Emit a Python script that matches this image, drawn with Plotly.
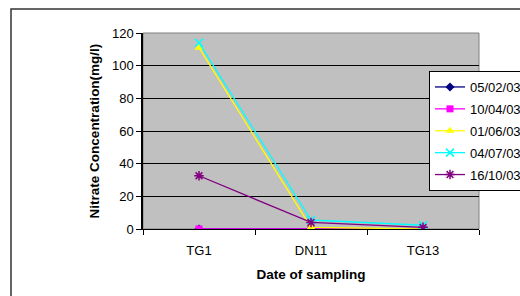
import plotly.graph_objects as go

categories = ["TG1", "DN11", "TG13"]
series_names = ["05/02/03", "10/04/03", "01/06/03", "04/07/03", "16/10/03"]
v_0502 = [0, 0, 0]
v_1004 = [0, 0, 0]
v_0106 = [111, 1, 0]
v_0407 = [114, 5.5, 2.3]
v_1610 = [32.6, 4, 1]
series_values = [v_0502, v_1004, v_0106, v_0407, v_1610]
colors = ["#000080", "#FF00FF", "#FFFF00", "#00FFFF", "#800080"]
symbols = ["diamond", "square", "triangle-up", "x-thin-open", "asterisk-open"]
msizes = [7, 7, 8, 8, 8]

FONT = "Liberation Sans, Arial, sans-serif"

fig = go.Figure()
for i, (name, vals) in enumerate(zip(series_names, series_values)):
    open_sym = symbols[i].endswith("open")
    fig.add_trace(go.Scatter(
        x=categories, y=vals, name=name, mode="lines+markers",
        legendgroup=name,
        line=dict(color=colors[i], width=1.3),
        marker=dict(symbol=symbols[i], size=msizes[i], color=colors[i],
                    line=dict(color=colors[i], width=1.5 if open_sym else 0)),
    ))

L, R, T, B = 143, 41, 33, 67
W, H = 520, 296
pw, ph = W - L - R, H - T - B

fig.update_layout(
    width=W, height=H,
    margin=dict(l=L, r=R, t=T, b=B, autoexpand=False),
    paper_bgcolor="white",
    plot_bgcolor="#C0C0C0",
    font=dict(family=FONT, size=13, color="black"),
    showlegend=True,
    legend=dict(
        x=(429 - L) / pw, y=(229 - 71) / ph, xanchor="left", yanchor="top",
        bgcolor="white", bordercolor="black", borderwidth=1,
        font=dict(family=FONT, size=13, color="black"),
        tracegroupgap=2,
    ),
    xaxis=dict(
        type="category", range=[-0.5, 2.5],
        showgrid=False, showline=True, linecolor="black", linewidth=1,
        ticks="outside", ticklen=5, tickcolor="black", tickson="boundaries",
        tickfont=dict(family=FONT, size=13), ticklabelstandoff=9,
        title=dict(text="<b>Date of sampling</b>", standoff=12,
                   font=dict(family=FONT, size=13.5)),
        mirror=False,
    ),
    yaxis=dict(
        range=[0, 120], dtick=20, tick0=0,
        showgrid=True, gridcolor="black", gridwidth=1,
        zeroline=True, zerolinecolor="black",
        showline=True, linecolor="black", linewidth=1.5,
        ticks="outside", ticklen=5, tickcolor="black",
        tickfont=dict(family=FONT, size=13),
        title=dict(text="<b>Nitrate Concentration(mg/l)</b>", standoff=9,
                   font=dict(family=FONT, size=13.5)),
    ),
    shapes=[
        # plot area border
        dict(type="rect", xref="paper", yref="paper", x0=0, x1=1, y0=0, y1=1,
             line=dict(color="#808080", width=1), layer="below"),
        # chart area frame
        dict(type="rect", xref="paper", yref="paper",
             x0=(11 - L) / pw, x1=(530 - L) / pw,
             y0=(229 - 310) / ph, y1=(229 - 9) / ph,
             line=dict(color="#333333", width=1.5)),
    ],
)

fig.write_html(
    "out.html",
    config={"displayModeBar": False},
    post_script="document.body.style.margin='0';document.body.style.overflow='hidden';",
)
